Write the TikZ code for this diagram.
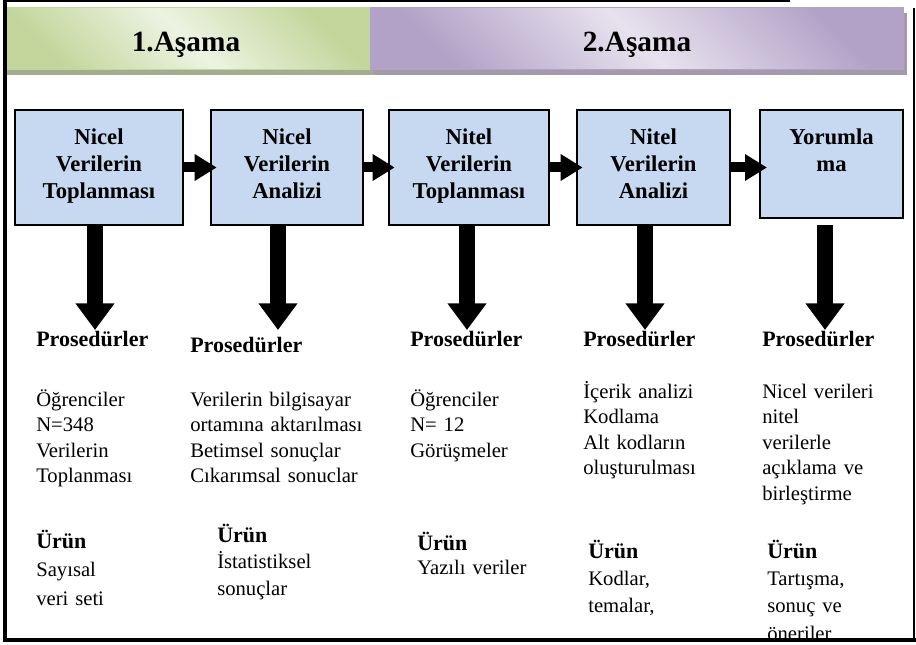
\documentclass[tikz,border=0pt]{standalone}
\usepackage{fontspec}
\setmainfont{Liberation Serif}
\usetikzlibrary{arrows.meta}
\definecolor{kutumavi}{HTML}{C6D9F1}
\definecolor{yesilkoyu}{HTML}{C3D69B}
\definecolor{yesilacik}{HTML}{EDF3E2}
\definecolor{yesilgolge}{HTML}{A4AC90}
\definecolor{morkoyu}{HTML}{B2A2C7}
\definecolor{moracik}{HTML}{E7E2EE}
\definecolor{morgolge}{HTML}{A39BAC}
\newcommand{\yasla}[1]{\makebox[88pt][s]{#1}}
\newcommand{\urun}{{\fontsize{16.5}{18}\selectfont\bfseries Ürün}}

\begin{document}
\begin{tikzpicture}[x=0.75pt,y=-0.75pt,
  kutu/.style={draw=black,line width=1.5pt,fill=kutumavi,inner sep=0pt},
  kyazi/.style={anchor=north,align=center,inner sep=0pt,font=\fontsize{17}{20}\selectfont\bfseries},
  baslik/.style={anchor=base west,inner sep=0pt,font=\fontsize{16.5}{20}\selectfont\bfseries},
  yazi/.style={anchor=base west,align=left,text width=135pt,inner sep=0pt,font=\fontsize{15.5}{18.6}\selectfont},
  asama/.style={anchor=base,inner sep=0pt,font=\fontsize{22}{26}\selectfont\bfseries},
  sagok/.style={line width=7.5pt,-{Triangle[length=16.5pt,width=19pt]}},
  asagiok/.style={line width=12.5pt,-{Triangle[length=20pt,width=28pt]}}]
\useasboundingbox (0,0) rectangle (916,645);

% asama seritleri
\fill[yesilgolge] (3,13) rectangle (374,75);
\fill[morgolge] (374,13) rectangle (907,75);
\shadedraw[draw=yesilkoyu,line width=0.75pt,top color=yesilkoyu,bottom color=yesilkoyu,middle color=yesilacik,shading angle=-45] (3,8) rectangle (370,70);
\shadedraw[draw=morkoyu,line width=0.75pt,top color=morkoyu,bottom color=morkoyu,middle color=moracik,shading angle=-45] (370,8) rectangle (903,70);
\node[asama] (a1) at (186,52) {1.Aşama};
\node[asama] (a2) at (637,52) {2.Aşama};

% kutular
\node[kutu,minimum width=126pt,minimum height=86.25pt] (b1) at (99,167.5) {};
\node[kutu,minimum width=114pt,minimum height=86.25pt] (b2) at (287,167.5) {};
\node[kutu,minimum width=120pt,minimum height=86.25pt] (b3) at (469,167.5) {};
\node[kutu,minimum width=114.75pt,minimum height=86.25pt] (b4) at (653.5,167.5) {};
\node[kutu,minimum width=107.25pt,minimum height=81pt] (b5) at (831.5,164) {};
\node[kyazi] (k1) at ([yshift=-15pt]b1.north) {Nicel\\Verilerin\\Toplanması};
\node[kyazi] (k2) at ([yshift=-15pt]b2.north) {Nicel\\Verilerin\\Analizi};
\node[kyazi] (k3) at ([yshift=-15pt]b3.north) {Nitel\\Verilerin\\Toplanması};
\node[kyazi] (k4) at ([yshift=-15pt]b4.north) {Nitel\\Verilerin\\Analizi};
\node[kyazi] (k5) at ([yshift=-15pt]b5.north) {Yorumla\\ma};

% oklar
\coordinate (c5) at (767,167.5);
\draw[sagok] (b1.east) -- ([xshift=5pt]b2.west);
\draw[sagok] (b2.east) -- ([xshift=5pt]b3.west);
\draw[sagok] (b3.east) -- ([xshift=5pt]b4.west);
\draw[sagok] (b4.east) -- (c5);
\coordinate (o1) at (95,330);
\coordinate (o2) at (278,330);
\coordinate (o3) at (467,330);
\coordinate (o4) at (645,330);
\coordinate (o5) at (825,330);
\draw[asagiok] (b1.south -| o1) -- (o1);
\draw[asagiok] (b2.south -| o2) -- (o2);
\draw[asagiok] (b3.south -| o3) -- (o3);
\draw[asagiok] (b4.south -| o4) -- (o4);
\draw[asagiok] (b5.south -| o5) ++(0,6) -- (o5);

% prosedurler
\node[baslik] (p1) at (36,346) {Prosedürler};
\node[baslik] (p2) at (190,352) {Prosedürler};
\node[baslik] (p3) at (410,346) {Prosedürler};
\node[baslik] (p4) at (583,346) {Prosedürler};
\node[baslik] (p5) at (762,346) {Prosedürler};
\node[yazi] (s1) at (36,406) {Öğrenciler\\[0.6pt]N=348\\[0.6pt]Verilerin\\[0.6pt]Toplanması};
\node[yazi] (s2) at (190,406) {Verilerin bilgisayar\\[0.6pt]ortamına aktarılması\\[0.6pt]Betimsel sonuçlar\\[0.6pt]Cıkarımsal sonuclar};
\node[yazi] (s3) at (410,406) {Öğrenciler\\[0.6pt]N= 12\\[0.6pt]Görüşmeler};
\node[yazi] (s4) at (583,398) {İçerik analizi\\[0.6pt]Kodlama\\[0.6pt]Alt kodların\\[0.6pt]oluşturulması};
\node[yazi] (s5) at (762,398) {\yasla{Nicel verileri}\\[0.6pt]nitel\\[0.6pt]verilerle\\[0.6pt]\yasla{açıklama ve}\\[0.6pt]birleştirme};

% urunler
\node[yazi] (r1) at (36,548) {\urun\\[2.8pt]Sayısal\\[2.8pt]veri seti};
\node[yazi] (r2) at (217,542) {\urun\\[1.6pt]İstatistiksel\\[1.6pt]sonuçlar};
\node[yazi] (r3) at (417,550) {\urun\\[-0.6pt]Yazılı veriler};
\node[yazi] (r4) at (588,558) {\urun\\[2pt]Kodlar,\\[2pt]temalar,};
\node[yazi] (r5) at (767,558) {\urun\\[2pt]Tartışma,\\[2pt]sonuç ve\\[2pt]öneriler};

% cerceve
\draw[line width=3pt] (5,0) -- (5,642);
\draw[line width=3pt] (3,640) -- (916,640);
\draw[line width=1.2pt] (914,8) -- (914,640);
\draw[line width=1.5pt] (3,1) -- (790,1);
\end{tikzpicture}
\end{document}
